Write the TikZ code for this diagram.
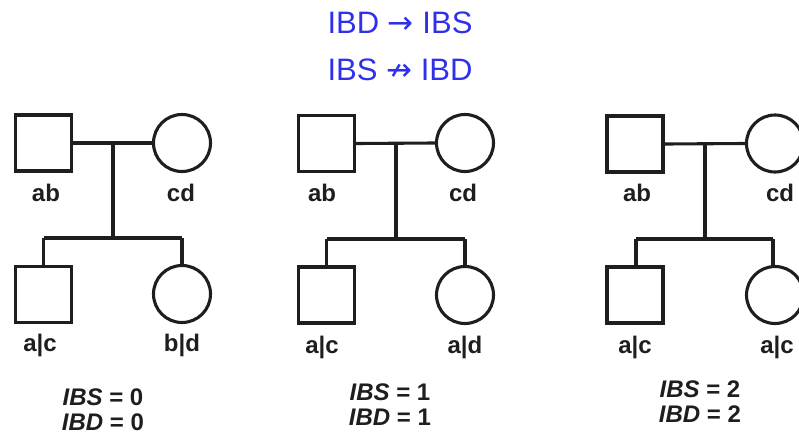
\documentclass[tikz,border=0pt]{standalone}
\usepackage{fontspec}
\setmainfont{Liberation Sans}
\newfontfamily\arrowfont{DejaVu Sans}
\definecolor{titleblue}{RGB}{48,48,235}
\definecolor{ink}{RGB}{30,30,30}
\begin{document}
\begin{tikzpicture}[x=1pt,y=-1pt,
  male/.style={draw=ink,line width=3.1pt,rectangle,minimum size=56pt,inner sep=0pt},
  female/.style={draw=ink,line width=3.1pt,circle,minimum size=57pt,inner sep=0pt},
  link/.style={draw=ink,line width=3.1pt},
  geno/.style={font=\fontsize{24}{24}\selectfont\bfseries,text=ink,inner sep=0pt},
  score/.style={font=\fontsize{24}{24}\selectfont\bfseries,text=ink,align=center,inner sep=0pt},
  ttl/.style={font=\fontsize{31}{31}\selectfont,text=titleblue,inner sep=0pt}]
\useasboundingbox (0,0) rectangle (799,439);

\node[ttl] (t1) at (400,23) {IBD {\arrowfont →} IBS};
\node[ttl] (t2) at (400,70) {IBS {\arrowfont ↛} IBD};

% ---------- panel 1
\node[male] (f1) at (43.5,143) {};
\node[female] (m1) at (182,143) {};
\node[male] (s1) at (43.5,294.5) {};
\node[female] (d1) at (182,294) {};
\coordinate (u1) at (113,143);
\coordinate (b1) at (113,238);
\coordinate (bl1) at (43.5,238);
\coordinate (br1) at (182,238);
\draw[link] (f1.east) -- (m1.west);
\draw[link] (u1) -- (b1);
\draw[link] (bl1) -- (br1);
\draw[link] (bl1) -- (s1.north);
\draw[link] (br1) -- (d1.north);
\node[geno] (lf1) at (46,193) {ab};
\node[geno] (lm1) at (181,193) {cd};
\node[geno] (ls1) at (40,345) {a|c};
\node[geno] (ld1) at (182,345) {b|d};
\node[score] (sc1) at (103,410) {\textit{IBS} = 0\\[1pt]\textit{IBD} = 0};

% ---------- panel 2
\node[male] (f2) at (326.5,143.5) {};
\node[female] (m2) at (465,143) {};
\node[male] (s2) at (326.5,295) {};
\node[female] (d2) at (465,295) {};
\coordinate (u2) at (396,143);
\coordinate (b2) at (396,239);
\coordinate (bl2) at (326.5,239);
\coordinate (br2) at (465,239);
\draw[link] (f2.east) -- (m2.west);
\draw[link] (u2) -- (b2);
\draw[link] (bl2) -- (br2);
\draw[link] (bl2) -- (s2.north);
\draw[link] (br2) -- (d2.north);
\node[geno] (lf2) at (322,193) {ab};
\node[geno] (lm2) at (463,193) {cd};
\node[geno] (ls2) at (322,347) {a|c};
\node[geno] (ld2) at (465,347) {a|d};
\node[score] (sc2) at (390,405) {\textit{IBS} = 1\\[1pt]\textit{IBD} = 1};

% ---------- panel 3
\node[male] (f3) at (635,144) {};
\node[female] (m3) at (775,143.5) {};
\node[male] (s3) at (635,295) {};
\node[female] (d3) at (775,295) {};
\coordinate (u3) at (705,143.5);
\coordinate (b3) at (705,239);
\coordinate (bl3) at (636,239);
\coordinate (br3) at (773,239);
\draw[link] (f3.east) -- (m3.west);
\draw[link] (u3) -- (b3);
\draw[link] (bl3) -- (br3);
\draw[link] (bl3) -- (bl3 |- s3.north);
\draw[link] (br3) -- (br3 |- d3.north);
\node[geno] (lf3) at (637,193) {ab};
\node[geno] (lm3) at (780,193) {cd};
\node[geno] (ls3) at (635,347) {a|c};
\node[geno] (ld3) at (777,347) {a|c};
\node[score] (sc3) at (700,402) {\textit{IBS} = 2\\[1pt]\textit{IBD} = 2};
\end{tikzpicture}
\end{document}
